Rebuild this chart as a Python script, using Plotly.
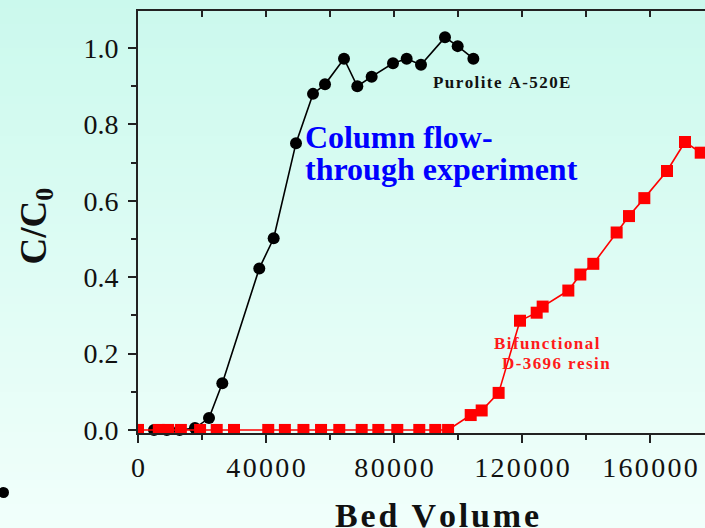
import plotly.graph_objects as go

# ---- data ----
purolite_bv = [5000, 9000, 13000, 17800, 22190, 26350, 37900, 42400, 49375, 54690,
               58440, 64375, 68540, 73020, 79690, 83960, 88440, 95940, 99900, 104800]
purolite_c = [0.0, 0.0, 0.0, 0.005, 0.031, 0.122, 0.423, 0.502, 0.751, 0.880,
              0.905, 0.972, 0.900, 0.925, 0.960, 0.972, 0.956, 1.028, 1.005, 0.972]

d3696_bv = [0, 6500, 9400, 13400, 19400, 24600, 30000, 40700, 45900, 51700,
            57200, 62900, 69900, 75100, 81030, 87900, 92900, 96900,
            103970, 107400, 112700, 119375, 124590, 126460, 134480, 138230,
            142290, 149580, 153440, 158230, 165310, 170940, 175850]
d3696_c = [0.0] * 18 + [0.039, 0.051, 0.097, 0.286, 0.307, 0.323, 0.365, 0.407,
                        0.435, 0.517, 0.560, 0.607, 0.678, 0.754, 0.726]

x_tickvals = [0, 40000, 80000, 120000, 160000]
x_ticklabels = ["\u200a".join(str(v)) for v in x_tickvals]

HS = "\u200a"
x_title = HS.join("Bed Volume")

# ---- figure ----
W, H = 705, 528
ML, MT, MR, MB = 138, 11, 0, 95
PW, PH = W - ML - MR, H - MT - MB

def px_x(p):
    return (p - ML) / PW

def px_y(p):
    return (H - MB - p) / PH

fig = go.Figure()

fig.add_trace(go.Scatter(
    x=purolite_bv, y=purolite_c, mode="lines+markers",
    line=dict(color="black", width=1.6),
    marker=dict(symbol="circle", size=12, color="black"),
    showlegend=False, cliponaxis=False,
))
fig.add_trace(go.Scatter(
    x=d3696_bv, y=d3696_c, mode="lines+markers",
    line=dict(color="#ff0000", width=1.6),
    marker=dict(symbol="square", size=12, color="#ff0000"),
    showlegend=False,
))
# invisible companion trace so the top (inside-tick) axis is drawn
fig.add_trace(go.Scatter(
    x=purolite_bv, y=purolite_c, xaxis="x2", mode="markers",
    marker=dict(opacity=0), hoverinfo="skip", showlegend=False,
))

# background gradient bands
shapes = []
N = 66
top = (203, 249, 237)
bot = (241, 255, 251)
y_lo, y_hi = px_y(H), px_y(0)
for i in range(N):
    t = i / (N - 1)
    c = tuple(round(top[k] + (bot[k] - top[k]) * t) for k in range(3))
    ya = y_hi - (y_hi - y_lo) * i / N
    yb = y_hi - (y_hi - y_lo) * (i + 1) / N
    shapes.append(dict(type="rect", xref="paper", yref="paper",
                       x0=px_x(0), x1=px_x(W), y0=yb - 0.002, y1=ya,
                       fillcolor="rgb(%d,%d,%d)" % c, line=dict(width=0),
                       layer="below"))
# stray dot at lower left
shapes.append(dict(type="circle", xref="paper", yref="paper",
                   x0=px_x(-2), x1=px_x(9), y0=px_y(498), y1=px_y(487),
                   fillcolor="black", line=dict(width=0), layer="above"))

axis_col = "#222222"
serif = "Liberation Serif, Times New Roman, serif"

annotations = [
    dict(text="<b>Column flow-</b>", x=51560, y=0.766, xref="x", yref="y",
         xanchor="left", yanchor="middle", showarrow=False,
         font=dict(family=serif, size=32, color="#0000ff")),
    dict(text="<b>through experiment</b>", x=51560, y=0.683, xref="x", yref="y",
         xanchor="left", yanchor="middle", showarrow=False,
         font=dict(family=serif, size=32, color="#0000ff")),
    dict(text="<b>" + HS.join("Purolite A-520E") + "</b>", x=91560, y=0.911, xref="x", yref="y",
         xanchor="left", yanchor="middle", showarrow=False,
         font=dict(family=serif, size=17, color="#111111")),
    dict(text="<b>" + HS.join("Bifunctional") + "</b>", x=110470, y=0.226, xref="x", yref="y",
         xanchor="left", yanchor="middle", showarrow=False,
         font=dict(family=serif, size=17, color="#ff1a1a")),
    dict(text="<b>" + HS.join("D-3696 resin") + "</b>", x=113280, y=0.1736, xref="x", yref="y",
         xanchor="left", yanchor="middle", showarrow=False,
         font=dict(family=serif, size=17, color="#ff1a1a")),
    dict(text="<b>" + x_title + "</b>", x=px_x(437), y=px_y(515), xref="paper", yref="paper",
         xanchor="center", yanchor="middle", showarrow=False,
         font=dict(family=serif, size=34, color="#111111")),
    dict(text="<b>C/C<sub>0</sub></b>", x=px_x(36), y=px_y(226.5), xref="paper", yref="paper",
         xanchor="center", yanchor="middle", showarrow=False, textangle=-90,
         font=dict(family=serif, size=37, color="#111111")),
]

fig.update_layout(
    width=W, height=H,
    margin=dict(l=ML, r=MR, t=MT, b=MB, pad=0),
    paper_bgcolor="rgb(222,252,244)",
    plot_bgcolor="rgba(0,0,0,0)",
    shapes=shapes,
    annotations=annotations,
    showlegend=False,
    xaxis=dict(
        range=[0, 177190], showgrid=False, zeroline=False,
        showline=True, linecolor=axis_col, linewidth=2,
        ticks="outside", ticklen=8, tickwidth=2, tickcolor=axis_col,
        tickmode="array", tickvals=x_tickvals, ticktext=x_ticklabels,
        minor=dict(ticks="outside", dtick=20000, tick0=0, ticklen=5, tickwidth=2,
                   tickcolor=axis_col, showgrid=False),
        tickfont=dict(family=serif, size=28, color="#111111"),
    ),
    xaxis2=dict(
        overlaying="x", side="top", matches="x", range=[0, 177190],
        showgrid=False, zeroline=False, showline=True, linecolor=axis_col, linewidth=2,
        ticks="inside", ticklen=6, tickwidth=2, tickcolor=axis_col,
        dtick=20000, tick0=0, showticklabels=False,
    ),
    yaxis=dict(
        range=[-0.008, 1.097], showgrid=False, zeroline=False,
        showline=True, linecolor=axis_col, linewidth=2,
        ticks="outside", ticklen=8, tickwidth=2, tickcolor=axis_col,
        dtick=0.2, tick0=0, tickformat=".1f",
        minor=dict(ticks="outside", dtick=0.1, tick0=0, ticklen=5, tickwidth=2,
                   tickcolor=axis_col, showgrid=False),
        tickfont=dict(family=serif, size=28, color="#111111"),
        ticklabelstandoff=4,
    ),
)

fig.write_html(
    "out.html",
    config={"displayModeBar": False},
    post_script="document.body.style.margin='0';document.body.style.overflow='hidden';",
)
